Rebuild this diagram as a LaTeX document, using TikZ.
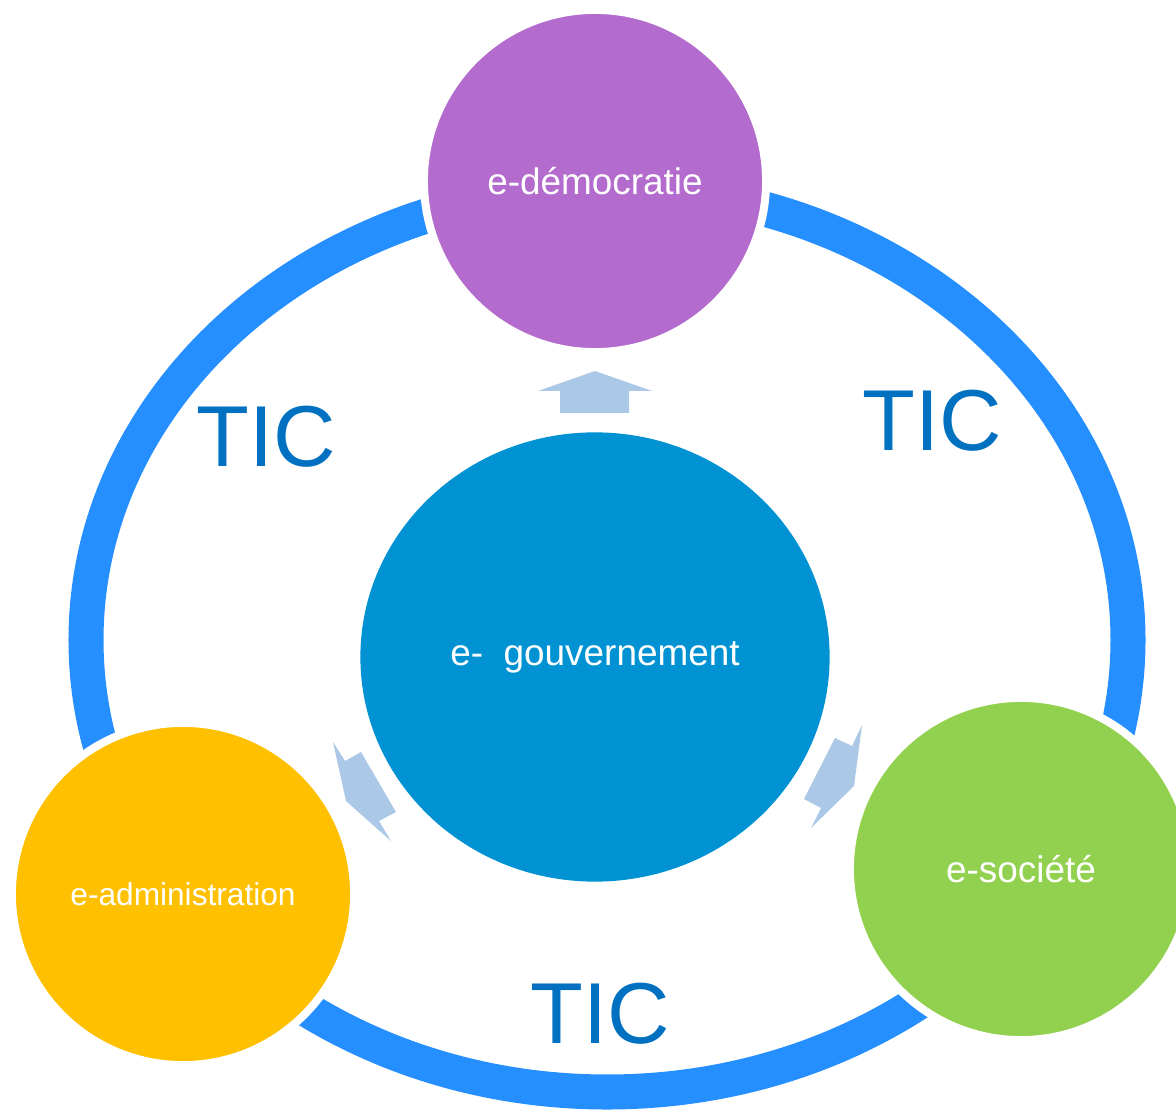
\documentclass[tikz,border=0pt]{standalone}
\usepackage{fontspec}
\setmainfont{Liberation Sans}
\usetikzlibrary{shapes.geometric}
\definecolor{ringblue}{HTML}{268FFF}
\definecolor{demopurple}{HTML}{B36BCD}
\definecolor{gouvblue}{HTML}{0092D3}
\definecolor{adminyellow}{HTML}{FFC000}
\definecolor{socgreen}{HTML}{92D050}
\definecolor{ticblue}{HTML}{0070C0}
\definecolor{arrowblue}{HTML}{ABC8E6}
\tikzset{
    sphere/.style = {circle, draw = white, line width = 0.08cm, minimum size = 3.42cm, inner sep = 0pt, text = white, font = \fontsize{10.5}{12}\selectfont},
    tic/.style = {inner sep = 0pt, text = ticblue, font = \fontsize{24.6}{28}\selectfont},
    flow/.style = {fill = arrowblue, draw = none}
}

\begin{document}
\begin{tikzpicture}[x = 0.01cm, y = -0.01cm, line join = round]
    \useasboundingbox (0,0) rectangle (1176,1110);
    \draw[ringblue, line width = 0.35cm] (607,640) ellipse [x radius = 521, y radius = 452];
    \node[sphere, fill = demopurple] (demo) at (595,181) {e-démocratie};
    \node[sphere, fill = adminyellow, font = \fontsize{9}{11}\selectfont] (admin) at (183,894) {e-administration};
    \node[sphere, fill = socgreen] (societe) at (1021,869) {e-société};
    \node[ellipse, fill = gouvblue, minimum width = 4.69cm, minimum height = 4.49cm, inner sep = 0pt, text = white, font = \fontsize{10.5}{12}\selectfont] (gouv) at (595,657) {e-\ \ gouvernement};
    \node[tic] (ticleft) at (266,437) {TIC};
    \node[tic] (ticright) at (932,421) {TIC};
    \node[tic] (ticbottom) at (600,1014) {TIC};
    \fill[flow] (560,413) -- (560,391) -- (538,391) -- (595,371) -- (652,391) -- (629,391) -- (629,413) -- cycle;
    \fill[flow] (333,742) -- (345,761) -- (361,752) -- (396,812) -- (379,821) -- (391,841) -- (346,801) -- cycle;
    \fill[flow] (862,725) -- (852,746) -- (835,738) -- (804,799) -- (821,808) -- (811,828) -- (854,786) -- cycle;

\end{tikzpicture}
\end{document}
